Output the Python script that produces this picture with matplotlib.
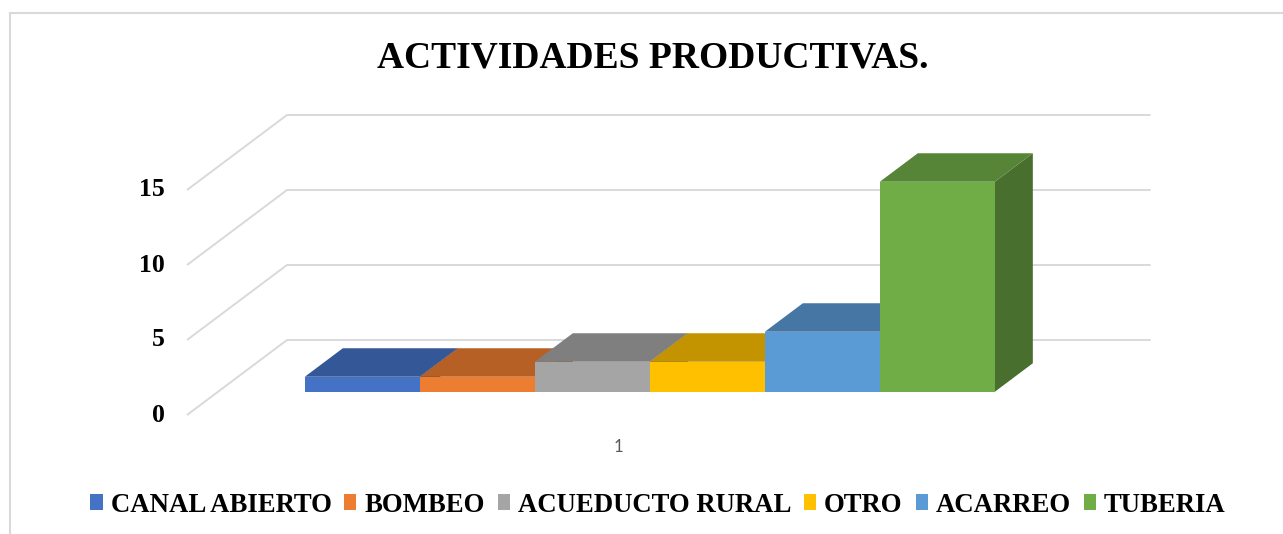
import matplotlib
matplotlib.use("Agg")
import matplotlib.pyplot as plt
import matplotlib.colors as mcolors
from matplotlib.patches import Polygon, Rectangle
from matplotlib.lines import Line2D

categories = ["CANAL ABIERTO", "BOMBEO", "ACUEDUCTO RURAL", "OTRO", "ACARREO", "TUBERIA"]
values = [1, 1, 2, 2, 4, 14]
colors = ["#4472C4", "#ED7D31", "#A5A5A5", "#FFC000", "#5B9BD5", "#70AD47"]
y_ticks = [0, 5, 10, 15]
x_label = "1"
title = "ACTIVIDADES PRODUCTIVAS."

W, H = 1283, 534
fig = plt.figure(figsize=(W / 100, H / 100), dpi=100)
ax = fig.add_axes([0, 0, 1, 1])

# oblique "3D" like excel: x unit = one bar width, y unit = data value
bar_px, unit_px = 115, 15
gap = 0.755                      # empty space at each side of the back wall
depth_dx, depth_dy = -100 / bar_px, -75 / unit_px   # full floor depth offset
x0_px, y0_px = 287, 340          # back wall origin in pixels
ax.set_xlim(-x0_px / bar_px, (W - x0_px) / bar_px)
ax.set_ylim((y0_px - H) / unit_px, y0_px / unit_px)
ax.axis("off")
wall_end = len(values) + 2 * gap
d_back, d_front = 0.31, 0.69     # bars sit in the middle of the floor depth


def proj(x, v, d):
    return x + d * depth_dx, v + d * depth_dy


def shade(c, f):
    r, g, b = mcolors.to_rgb(c)
    return (r * f, g * f, b * f)


serif = {"family": "Liberation Serif", "weight": "bold"}

# gridlines (side wall + back wall)
for t in y_ticks:
    fx, fy = proj(0, t, 1)
    ax.plot([fx, 0, wall_end], [fy, t, t], color="#d9d9d9", lw=1.4, zorder=1,
            solid_capstyle="butt")
    ax.annotate(str(t), (fx, fy), xytext=(-16, 0), textcoords="offset points",
                ha="right", va="center", fontsize=18.5, **serif)

# bars, left to right so the right neighbour hides what it should
for i, (v, c) in enumerate(zip(values, colors)):
    xa, xb = gap + i, gap + i + 1
    front = [proj(xa, 0, d_front), proj(xb, 0, d_front), proj(xb, v, d_front), proj(xa, v, d_front)]
    top = [proj(xa, v, d_front), proj(xb, v, d_front), proj(xb, v, d_back), proj(xa, v, d_back)]
    side = [proj(xb, 0, d_front), proj(xb, v, d_front), proj(xb, v, d_back), proj(xb, 0, d_back)]
    ax.add_patch(Polygon(side, closed=True, fc=shade(c, 0.64), ec="none", zorder=2 + i))
    ax.add_patch(Polygon(top, closed=True, fc=shade(c, 0.77), ec="none", zorder=2 + i))
    ax.add_patch(Polygon(front, closed=True, fc=c, ec="none", zorder=2 + i))

# category label under the floor
lx, ly = proj(wall_end / 2, 0, 1)
ax.annotate(x_label, (lx, ly), xytext=(0, -23), textcoords="offset points",
            ha="center", va="center", fontsize=12, color="#595959", family="Lato")

fig.text(653 / W, 1 - 58 / H, title, ha="center", va="center", fontsize=27, **serif)

handles = [Rectangle((0, 0), 1, 1, fc=c, ec="none") for c in colors]
fig.legend(handles, categories, loc="center", bbox_to_anchor=(658 / W, 1 - 505 / H),
           ncol=len(categories), frameon=False, handlelength=0.45, handleheight=0.5,
           handletextpad=0.3, columnspacing=0.48,
           prop={"family": "Liberation Serif", "weight": "bold", "size": 19.3})

# chart area border (only top and left visible in the crop)
fig.add_artist(Line2D([9.5 / W, 9.5 / W], [0, 1 - 13 / H], color="#d9d9d9", lw=1.5))
fig.add_artist(Line2D([9.5 / W, 1], [1 - 13 / H, 1 - 13 / H], color="#d9d9d9", lw=1.5))

fig.savefig("out.png", dpi=100)
